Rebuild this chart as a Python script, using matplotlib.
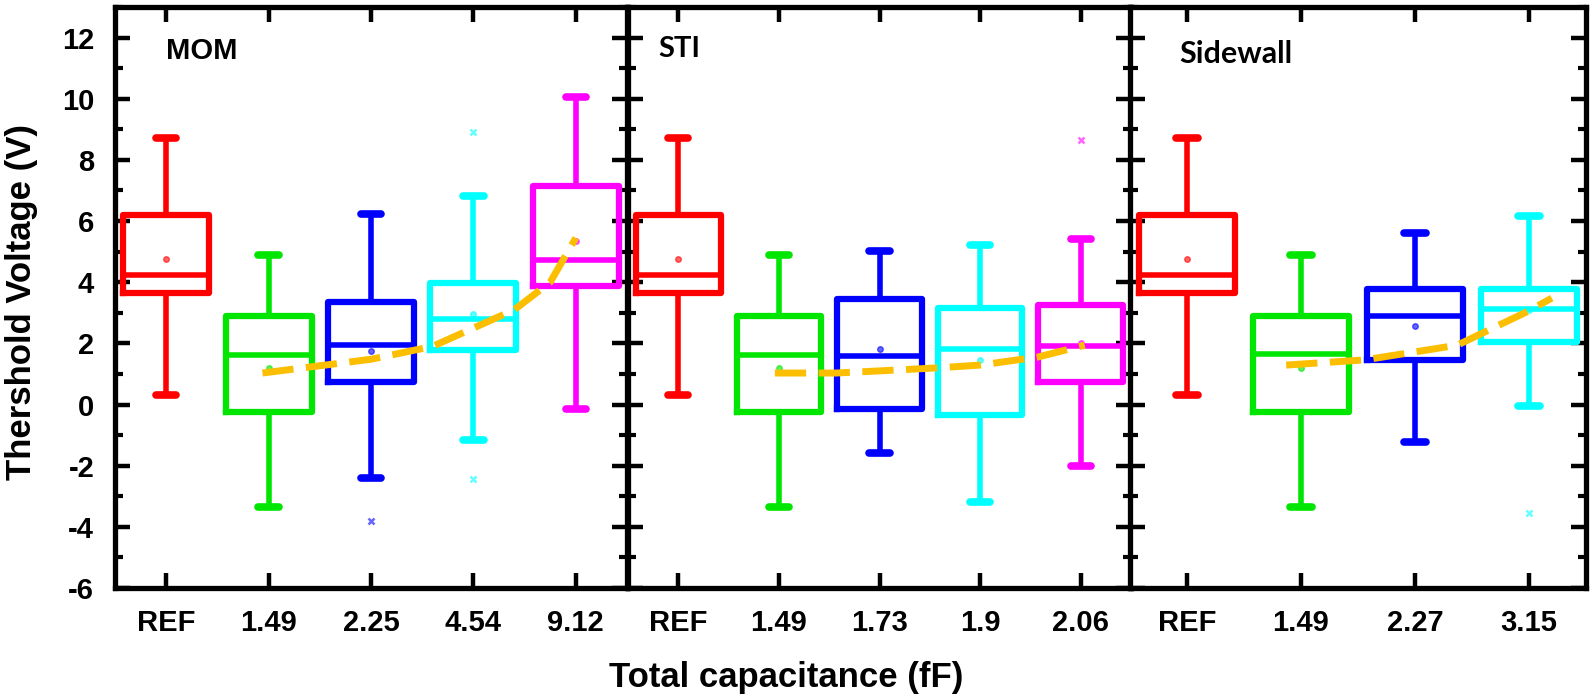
import matplotlib
matplotlib.use('Agg')
import matplotlib.pyplot as plt
from matplotlib.ticker import MultipleLocator

plt.rcParams['axes.unicode_minus'] = False

# ---------------- data ----------------
colors = ['#FF0000', '#00E600', '#0000FF', '#00FFFF', '#FF00FF']

mom_labels = ['REF', '1.49', '2.25', '4.54', '9.12']
mom_wlo = [0.32, -3.35, -2.39, -1.16, -0.13]
mom_q1 = [3.65, -0.26, 0.74, 1.77, 3.87]
mom_med = [4.24, 1.61, 1.96, 2.80, 4.72]
mom_q3 = [6.19, 2.90, 3.35, 3.96, 7.16]
mom_whi = [8.71, 4.90, 6.22, 6.81, 10.06]
mom_mean = [4.77, 1.18, 1.76, 2.97, 5.35]
mom_out = [[], [], [-3.80], [8.90, -2.45], []]
mom_trend_x = [1.94, 3.0, 3.6, 4.0, 4.4, 4.75, 5.0]
mom_trend_y = [1.03, 1.48, 1.90, 2.50, 3.10, 4.00, 5.45]

sti_labels = ['REF', '1.49', '1.73', '1.9', '2.06']
sti_wlo = [0.32, -3.35, -1.59, -3.19, -2.00]
sti_q1 = [3.65, -0.26, -0.15, -0.35, 0.75]
sti_med = [4.24, 1.61, 1.59, 1.80, 1.90]
sti_q3 = [6.19, 2.90, 3.46, 3.16, 3.26]
sti_whi = [8.71, 4.90, 5.03, 5.23, 5.42]
sti_mean = [4.77, 1.20, 1.80, 1.45, 2.00]
sti_out = [[], [], [], [], [8.65]]
sti_trend_x = [1.96, 2.57, 3.0, 3.58, 4.0, 4.57, 5.04]
sti_trend_y = [1.03, 1.03, 1.10, 1.20, 1.29, 1.55, 1.94]

side_labels = ['REF', '1.49', '2.27', '3.15']
side_wlo = [0.32, -3.35, -1.23, -0.06]
side_q1 = [3.65, -0.26, 1.47, 2.04]
side_med = [4.24, 1.64, 2.88, 3.14]
side_q3 = [6.19, 2.90, 3.78, 3.78]
side_whi = [8.71, 4.90, 5.61, 6.15]
side_mean = [4.77, 1.20, 2.58, 3.10]
side_out = [[], [], [], [-3.55]]
side_trend_x = [1.87, 2.56, 3.37, 3.98, 4.2]
side_trend_y = [1.29, 1.46, 1.94, 3.03, 3.48]

panels = [
    ('MOM', mom_labels, mom_wlo, mom_q1, mom_med, mom_q3, mom_whi, mom_mean, mom_out, mom_trend_x, mom_trend_y),
    ('STI', sti_labels, sti_wlo, sti_q1, sti_med, sti_q3, sti_whi, sti_mean, sti_out, sti_trend_x, sti_trend_y),
    ('Sidewall', side_labels, side_wlo, side_q1, side_med, side_q3, side_whi, side_mean, side_out, side_trend_x, side_trend_y),
]

# ---------------- figure ----------------
W, H = 1594, 696
fig = plt.figure(figsize=(W / 100, H / 100), dpi=100)

bottom_px, top_px = 588, 7
rects_px = [(115, 627), (628, 1131), (1130, 1586)]
name_pos = [(1.0, 11.57, 'Liberation Sans', 21), (0.80, 11.63, 'Lato', 21), (0.93, 11.47, 'Lato', 22)]

tick_font = dict(family='Liberation Sans', weight='bold', size=21)
trend_color = '#FBBE00'

for p, (name, labels, wlo, q1, med, q3, whi, mean, out, tx, ty) in enumerate(panels):
    l, r = rects_px[p]
    ax = fig.add_axes([l / W, 1 - bottom_px / H, (r - l) / W, (bottom_px - top_px) / H])
    n = len(labels)
    for i in range(n):
        c = colors[i]
        st = dict(med=med[i], q1=q1[i], q3=q3[i], whislo=wlo[i], whishi=whi[i],
                  mean=mean[i], fliers=out[i], label=labels[i])
        ax.bxp([st], positions=[i + 1], widths=0.84, capwidths=0.2,
               showmeans=True, showfliers=True,
               boxprops=dict(color=c, linewidth=4.5),
               medianprops=dict(color=c, linewidth=4.0),
               whiskerprops=dict(color=c, linewidth=4.0),
               capprops=dict(color=c, linewidth=5.5, solid_capstyle='round'),
               meanprops=dict(marker='o', markersize=4, markerfacecolor=c,
                              markeredgecolor=c, alpha=0.6),
               flierprops=dict(marker='x', markersize=5, markeredgecolor=c,
                               markeredgewidth=1.8, alpha=0.6),
               manage_ticks=False)
    ax.plot(tx, ty, color=trend_color, linewidth=5, linestyle=(0, (4.5, 1.8)),
            solid_capstyle='butt', dash_capstyle='butt', zorder=5)

    ax.set_xlim(0.5, n + 0.5)
    ax.set_ylim(-6, 13)
    ax.set_xticks(range(1, n + 1))
    ax.set_xticklabels(labels)
    ax.yaxis.set_major_locator(MultipleLocator(2))
    ax.yaxis.set_minor_locator(MultipleLocator(1))
    ax.set_yticks([-6, -4, -2, 0, 2, 4, 6, 8, 10, 12])
    ax.tick_params(axis='both', which='major', direction='in', length=11, width=3.2,
                   top=True, right=True, pad=15, color='black')
    ax.tick_params(axis='y', which='minor', direction='in', length=6, width=3,
                   left=True, right=True)
    ax.tick_params(axis='x', which='minor', bottom=False, top=False)
    if p > 0:
        ax.tick_params(axis='y', which='both', labelleft=False)
    for lab in ax.get_xticklabels() + ax.get_yticklabels():
        lab.set_fontfamily(tick_font['family'])
        lab.set_fontweight('bold')
        lab.set_fontsize(tick_font['size'])
    for sp in ax.spines.values():
        sp.set_linewidth(3.8)
        sp.set_color('black')
    nx, ny, fam, fs = name_pos[p]
    ax.text(nx, ny, name, ha='left', va='center', fontsize=fs, fontweight='bold',
            family=fam, color='black')

fig.text(786 / W, 1 - 677 / H, 'Total capacitance (fF)', ha='center', va='center',
         fontsize=25, fontweight='bold', family='Liberation Sans')
fig.text(22 / W, 1 - 302 / H, 'Thershold Voltage (V)', ha='center', va='center',
         rotation=90, fontsize=25, fontweight='bold', family='Liberation Sans')

fig.savefig('out.png', dpi=100)
